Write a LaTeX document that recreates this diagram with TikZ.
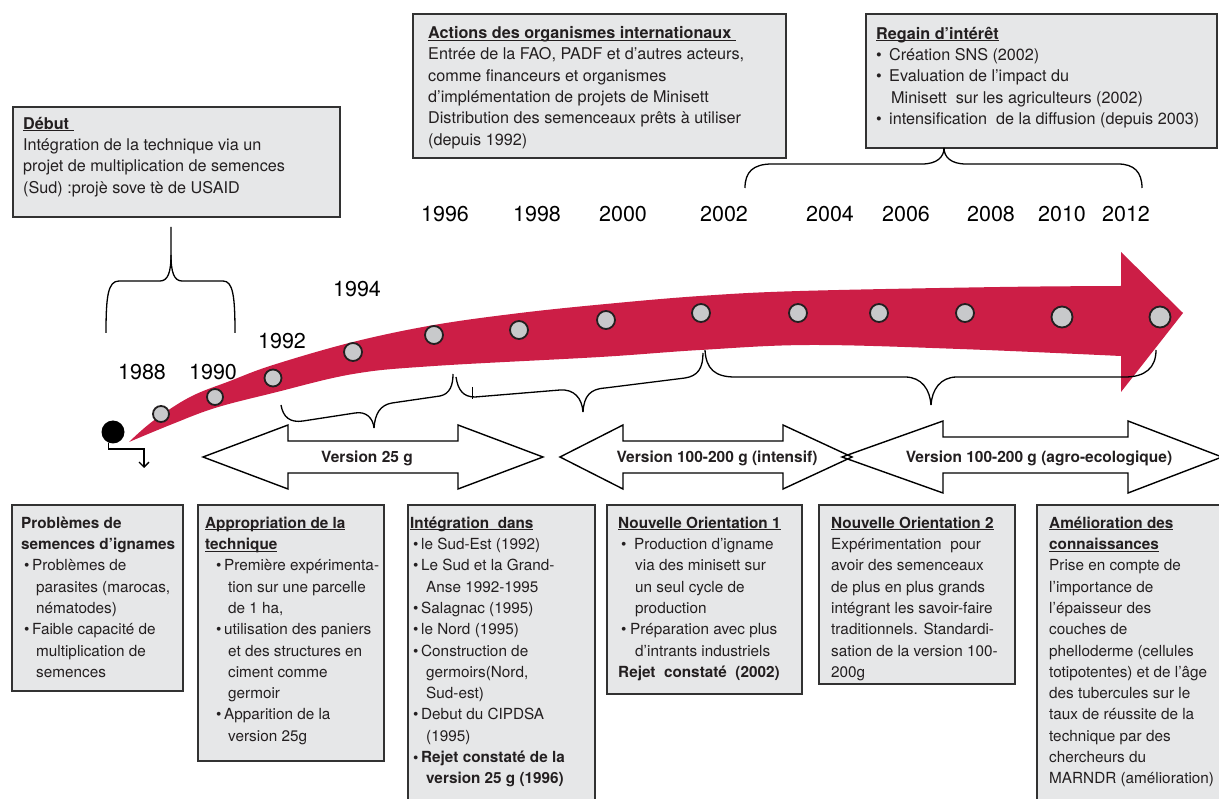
\documentclass[tikz,border=0pt]{standalone}
\usepackage{fontspec}
\setmainfont{TeX Gyre Heros}
\usetikzlibrary{arrows.meta}
\definecolor{arrowred}{RGB}{204,30,70}
\definecolor{boxgray}{RGB}{230,231,232}
\definecolor{boxline}{RGB}{50,50,50}
\definecolor{dotgray}{RGB}{200,201,203}
\definecolor{ink}{RGB}{35,31,32}
\newcommand{\ulx}[1]{\setbox0=\hbox{#1}\rlap{\rule[-2.2pt]{\wd0}{1.1pt}}\box0}
\newcommand{\bul}[2]{\hspace*{#1}\makebox[#2][l]{\textbullet}}
\begin{document}
\begin{tikzpicture}[x=1pt,y=-1pt,
  infobox/.style={draw=boxline,fill=boxgray,line width=1.7pt},
  toptext/.style={anchor=north west,inner sep=0pt,align=left,text=ink,font=\fontsize{16.2}{21.3}\selectfont},
  bottext/.style={anchor=north west,inner sep=0pt,align=left,text=ink,font=\fontsize{15.3}{21.3}\selectfont},
  yearlbl/.style={anchor=base,inner sep=0pt,text=black,font=\fontsize{21.5}{24}\selectfont},
  verlbl/.style={anchor=base,inner sep=0pt,text=ink,font=\fontsize{15.5}{18}\selectfont\bfseries},
  yeardot/.style={circle,draw=ink,fill=dotgray,line width=1.8pt,inner sep=0pt},
  bracestyle/.style={draw=black,line width=1.3pt},
  dblarrow/.style={draw=black,line width=1.4pt,line join=miter}
]
\fill[white] (0,0) rectangle (1219,799);
\useasboundingbox (0,0) rectangle (1219,799);

% ---------- top boxes ----------
\draw[infobox] (13,107) rectangle (340,217);
\node[toptext] (debut) at (23,113) {\rule{0pt}{16pt}\ulx{\textbf{Début\ }}\\
Intégration de la technique via un\\
projet de multiplication de semences\\
(Sud) :projè sove tè de USAID};

\draw[infobox] (413,14) rectangle (786,158);
\node[toptext] (actions) at (428,22.5) {\rule{0pt}{16pt}\ulx{\textbf{Actions des organismes internationaux\ }}\\
Entrée de la FAO, PADF et d’autres acteurs,\\
comme financeurs et organismes\\
d’implémentation de projets de Minisett\\
Distribution des semenceaux prêts à utiliser\\
(depuis 1992)};

\draw[infobox] (866,14) rectangle (1217,148);
\node[toptext] (regain) at (876,23) {\rule{0pt}{16pt}\ulx{\textbf{Regain d’intérêt}}\\
\bul{0pt}{13pt}Création SNS (2002)\\
\bul{0pt}{13pt}Evaluation de l’impact du\\
\hspace*{15pt}Minisett\ \ sur les agriculteurs (2002)\\
\bul{0pt}{13pt}intensification\ \ de la diffusion (depuis 2003)};

% ---------- braces from top boxes ----------
\draw[bracestyle] (106,333) .. controls (106,296) and (108,281) .. (119,281) -- (160,281)
  .. controls (168,281) and (171,272) .. (171,255) -- (171,227);
\draw[bracestyle] (171,255) .. controls (171,272) and (174,281) .. (182,281) -- (223,281)
  .. controls (233,281) and (235,296) .. (235,333);

\draw[bracestyle] (745,188) .. controls (745,172) and (753,164) .. (772,164) -- (922,164)
  .. controls (937,164) and (944,157) .. (944,148);
\draw[bracestyle] (944,148) .. controls (944,157) and (951,164) .. (966,164) -- (1118,164)
  .. controls (1134,164) and (1142,172) .. (1142,188);

% ---------- red arrow ----------
\fill[arrowred] (129,442) -- plot[smooth,tension=0.6] coordinates {(129,442) (153,421) (190,397) (230,381) (273,365) (353,342) (434,325) (520,313) (606,304) (700,296) (800,291) (1000,287) (1121,286)}
  -- (1121,252) -- (1183,313) -- (1121,392) --
  plot[smooth,tension=0.6] coordinates {(1121,356) (960,349) (810,345) (700,350) (600,357) (434,366) (353,374) (273,393) (215,408) (170,425) (129,442)} -- cycle;

% dots
\node[yeardot,minimum size=16pt] (d88) at (161,414) {};
\node[yeardot,minimum size=16pt] (d90) at (215,397) {};
\node[yeardot,minimum size=17pt] (d92) at (273,378) {};
\node[yeardot,minimum size=18pt] (d94) at (353,352) {};
\node[yeardot,minimum size=18pt] (d96) at (434,335) {};
\node[yeardot,minimum size=18pt] (d98) at (519,330) {};
\node[yeardot,minimum size=18pt] (d00) at (606,320) {};
\node[yeardot,minimum size=18pt] (d02) at (701,313) {};
\node[yeardot,minimum size=18pt] (d04) at (798,313) {};
\node[yeardot,minimum size=18pt] (d06) at (879,313) {};
\node[yeardot,minimum size=18pt] (d08) at (965,313) {};
\node[yeardot,minimum size=21pt] (d10) at (1062,317) {};
\node[yeardot,minimum size=21pt] (d12) at (1160,317) {};

% start dot and small connector
\node[circle,fill=black,minimum size=23pt,inner sep=0pt] (start) at (113,432) {};
\coordinate (startend) at (144,468);
\draw[line width=1.3pt,-{Straight Barb[length=5pt,width=10pt,line width=1.3pt]}] (start.-112) |- (144,449) -- (startend);

% years
\node[yearlbl] (y88) at (142,380) {1988};
\node[yearlbl] (y90) at (213,380) {1990};
\node[yearlbl] (y92) at (282,349) {1992};
\node[yearlbl] (y94) at (357,297) {1994};
\node[yearlbl] (y96) at (445,222) {1996};
\node[yearlbl] (y98) at (537,222) {1998};
\node[yearlbl] (y00) at (623,222) {2000};
\node[yearlbl] (y02) at (724,222) {2002};
\node[yearlbl] (y04) at (830,222) {2004};
\node[yearlbl] (y06) at (906,222) {2006};
\node[yearlbl] (y08) at (991,222) {2008};
\node[yearlbl] (y10) at (1062,222) {2010};
\node[yearlbl] (y12) at (1126,222) {2012};

% ---------- braces under the arrow ----------
\draw[bracestyle] (281,405) .. controls (283,417) and (290,423) .. (303,421) -- (355,413)
  .. controls (366,411) and (373,418) .. (374,428);
\draw[bracestyle] (374,428) .. controls (375,414) and (380,405) .. (392,403) -- (440,396)
  .. controls (450,394) and (453,385) .. (453,374);
\draw[bracestyle] (456,377) .. controls (458,390) and (463,397) .. (475,397) -- (560,390)
  .. controls (574,389) and (582,398) .. (583,412);
\draw[bracestyle] (583,412) .. controls (584,396) and (590,389) .. (605,388) -- (685,378)
  .. controls (698,376) and (703,368) .. (703,353);
\draw[line width=0.8pt] (472,387) -- (472,399);
\draw[bracestyle] (705,350) .. controls (706,369) and (715,377) .. (735,377) -- (905,377)
  .. controls (922,377) and (930,390) .. (931,405);
\draw[bracestyle] (931,405) .. controls (932,390) and (940,377) .. (957,377) -- (1125,377)
  .. controls (1145,377) and (1156,368) .. (1156,350);

% ---------- version double arrows ----------
\fill[white] (203,457) -- (288,425) -- (288,441) -- (458,441) -- (458,425) -- (543,457) -- (458,489) -- (458,473) -- (288,473) -- (288,489) -- cycle;
\fill[white] (560,457) -- (623,425) -- (623,441) -- (783,441) -- (783,425) -- (852,457) -- (783,489) -- (783,473) -- (623,473) -- (623,489) -- cycle;
\fill[white] (842,457) -- (943,421) -- (943,437) -- (1128,437) -- (1128,421) -- (1222,457) -- (1128,493) -- (1128,473) -- (943,473) -- (943,493) -- cycle;
\draw[dblarrow] (203,457) -- (288,425) -- (288,441) -- (458,441) -- (458,425) -- (543,457) -- (458,489) -- (458,473) -- (288,473) -- (288,489) -- cycle;
\draw[dblarrow] (560,457) -- (623,425) -- (623,441) -- (783,441) -- (783,425) -- (852,457) -- (783,489) -- (783,473) -- (623,473) -- (623,489) -- cycle;
\draw[dblarrow] (842,457) -- (943,421) -- (943,437) -- (1128,437) -- (1128,421) -- (1222,457) -- (1128,493) -- (1128,473) -- (943,473) -- (943,493) -- cycle;
\node[verlbl] (v25) at (367,462.5) {Version 25 g};
\node[verlbl] (vint) at (717,462.5) {Version 100-200 g (intensif)};
\node[verlbl] (vagro) at (1039,462.5) {Version 100-200 g (agro-ecologique)};

% ---------- bottom boxes ----------
\draw[infobox] (12,505) rectangle (183,691);
\node[bottext] (b1) at (21,513) {\rule{0pt}{15pt}\textbf{Problèmes de}\\
\textbf{semences d’ignames}\\
\bul{3pt}{8pt}Problèmes de\\
\hspace*{15pt}parasites (marocas,\\
\hspace*{15pt}nématodes)\\
\bul{3pt}{8pt}Faible capacité de\\
\hspace*{15pt}multiplication de\\
\hspace*{15pt}semences};

\draw[infobox] (198,505) rectangle (384,761);
\node[bottext] (b2) at (205,513) {\rule{0pt}{15pt}\ulx{\textbf{Appropriation de la}}\\
\ulx{\textbf{technique}}\\
\bul{11pt}{8pt}Première expérimenta-\\
\hspace*{23pt}tion sur une parcelle\\
\hspace*{23pt}de 1 ha,\\
\bul{11pt}{8pt}utilisation des paniers\\
\hspace*{23pt}et des structures en\\
\hspace*{23pt}ciment comme\\
\hspace*{23pt}germoir\\
\bul{11pt}{8pt}Apparition de la\\
\hspace*{23pt}version 25g};

\draw[infobox] (408,505) rectangle (595,812);
\node[bottext] (b3) at (410,513) {\rule{0pt}{15pt}\ulx{\textbf{Intégration\ \ dans}}\\
\bul{3pt}{8pt}le Sud-Est (1992)\\
\bul{3pt}{8pt}Le Sud et la Grand-\\
\hspace*{16pt}Anse 1992-1995\\
\bul{3pt}{8pt}Salagnac (1995)\\
\bul{3pt}{8pt}le Nord (1995)\\
\bul{3pt}{8pt}Construction de\\
\hspace*{16pt}germoirs(Nord,\\
\hspace*{16pt}Sud-est)\\
\bul{3pt}{8pt}Debut du CIPDSA\\
\hspace*{16pt}(1995)\\
\textbf{\bul{3pt}{8pt}Rejet constaté de la}\\
\hspace*{16pt}\textbf{version 25 g (1996)}};

\draw[infobox] (607,505) rectangle (802,694);
\node[bottext] (b4) at (618,513) {\rule{0pt}{15pt}\ulx{\textbf{Nouvelle Orientation 1}}\\
\bul{3pt}{13pt}Production d’igname\\
\hspace*{17pt}via des minisett sur\\
\hspace*{17pt}un seul cycle de\\
\hspace*{17pt}production\\
\bul{3pt}{9pt}Préparation avec plus\\
\hspace*{17pt}d’intrants industriels\\
\textbf{Rejet\ \ constaté\ \ (2002)}};

\draw[infobox] (819,505) rectangle (1015,684);
\node[bottext] (b5) at (831,513) {\rule{0pt}{15pt}\ulx{\textbf{Nouvelle Orientation 2}}\\
Expérimentation\ \ pour\\
avoir des semenceaux\\
de plus en plus grands\\
intégrant les savoir-faire\\
traditionnels. Standardi-\\
sation de la version 100-\\
200g};

\draw[infobox] (1037,505) rectangle (1232,812);
\node[bottext] (b6) at (1049,513) {\rule{0pt}{15pt}\ulx{\textbf{Amélioration des}}\\
\ulx{\textbf{connaissances}}\\
Prise en compte de\\
l’importance de\\
l’épaisseur des\\
couches de\\
phelloderme (cellules\\
totipotentes) et de l’âge\\
des tubercules sur le\\
taux de réussite de la\\
technique par des\\
chercheurs du\\
MARNDR (amélioration)};
\end{tikzpicture}
\end{document}
